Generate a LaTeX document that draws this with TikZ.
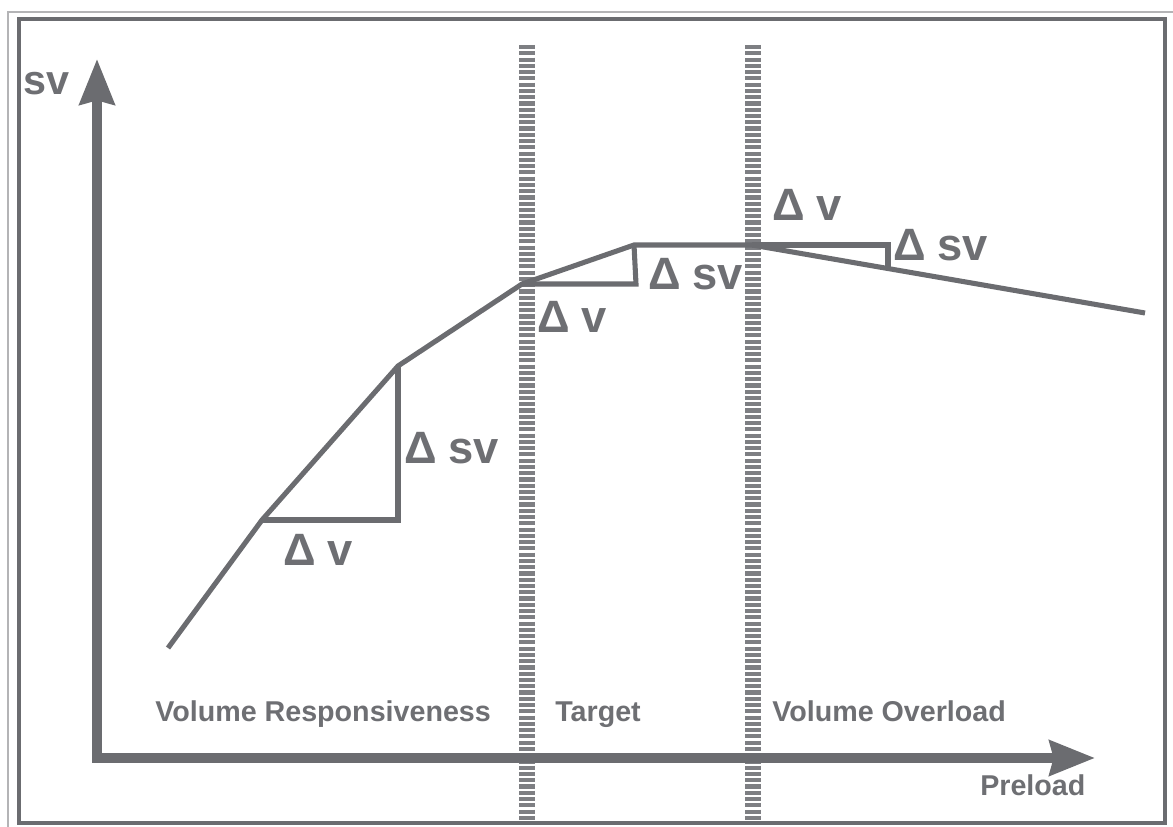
\documentclass[tikz,border=0pt]{standalone}
\usepackage{fontspec}
\setmainfont{Liberation Sans}
\usetikzlibrary{arrows.meta}
\definecolor{plotgray}{HTML}{6B6C70}
\definecolor{textgray}{HTML}{6E6F73}
\definecolor{bargray}{HTML}{7E7F83}
\definecolor{framegray}{HTML}{B4B4B6}

\begin{document}
\begin{tikzpicture}[x=0.75pt,y=-0.75pt,
  curve/.style={plotgray,line width=3.8pt},
  axis/.style={plotgray,line width=7pt,line cap=rect,-{Stealth[length=34pt,width=26pt,inset=3pt]}},
  zone/.style={bargray,line width=12pt,dash pattern=on 3.1pt off 1.6pt},
  region/.style={textgray,font=\bfseries\fontsize{21.5}{24}\selectfont,inner sep=0pt,anchor=base west},
  delta/.style={textgray,font=\bfseries\fontsize{34}{38}\selectfont,inner sep=0pt,anchor=base west}]
\useasboundingbox (0,0) rectangle (1173,827);
\draw[framegray,line width=1.5pt] (8,827) -- (8,12) -- (1173,12);
\draw[plotgray,line width=3.6pt] (19,19) rectangle (1165,823);

\coordinate (b1top) at (527,45);
\coordinate (b1bot) at (527,821);
\coordinate (b2top) at (753,45);
\coordinate (b2bot) at (753,821);
\draw[zone] (b1top) -- (b1bot);
\draw[zone] (b2top) -- (b2bot);

\coordinate (origin) at (97,758);
\coordinate (ytip) at (97,59);
\coordinate (xtip) at (1095,758);
\draw[axis] (origin) -- (ytip);
\draw[axis] (origin) -- (xtip);

\coordinate (p0) at (168,648);
\coordinate (p1) at (262,520);
\coordinate (p2) at (398,366);
\coordinate (p3) at (522,284);
\coordinate (p4) at (634,245);
\coordinate (p5) at (752,245);
\coordinate (p6) at (1145,313);
\coordinate (q1) at (398,520);
\coordinate (q2) at (636,284);
\coordinate (q3) at (888,245);
\coordinate (r3) at (888,268);
\draw[curve] (p0) -- (p1) -- (p2) -- (p3) -- (p4) -- (p5) -- (p6);
\draw[curve] (p1) -- (q1) -- (p2);
\draw[curve] (p3) -- (q2) -- (p4);
\draw[curve] (p5) -- (q3) -- (r3);

\node[delta] (dv1) at (283,565) {Δ\kern.26em v};
\node[delta] (dsv1) at (404,463) {Δ\kern.26em sv};
\node[delta] (dv2) at (537,332) {Δ\kern.26em v};
\node[delta] (dsv2) at (648,289) {Δ\kern.26em sv};
\node[delta] (dv3) at (772,220) {Δ\kern.26em v};
\node[delta] (dsv3) at (893,260) {Δ\kern.26em sv};
\node[delta,font=\bfseries\fontsize{31}{34}\selectfont] (svlabel) at (23,95) {sv};
\node[region] (resp) at (155,721) {Volume Responsiveness};
\node[region] (target) at (555,721) {Target};
\node[region] (overload) at (772,721) {Volume Overload};
\node[region] (preload) at (980,795) {Preload};
\end{tikzpicture}
\end{document}
